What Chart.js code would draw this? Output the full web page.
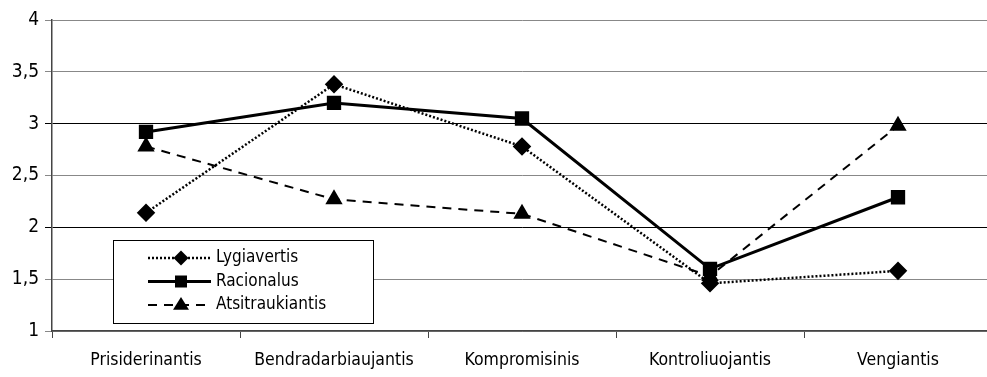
<!DOCTYPE html>
<html>
<head>
<meta charset="utf-8">
<script src="https://cdn.jsdelivr.net/npm/chart.js@4"></script>
<style>
  html, body { margin: 0; padding: 0; background: #fff; overflow: hidden; }
  #wrap { width: 987px; height: 377px; overflow: hidden; }
</style>
</head>
<body>
<div id="wrap"><canvas id="lineChart" width="1003" height="377"></canvas></div>
<script>
// Kategorijos
const categories = ['Prisiderinantis', 'Bendradarbiaujantis', 'Kompromisinis', 'Kontroliuojantis', 'Vengiantis'];

// Serijų reikšmės
const lygiavertis = [2.14, 3.38, 2.78, 1.46, 1.58];
const racionalus = [2.92, 3.2, 3.05, 1.6, 2.29];
const atsitraukiantis = [2.78, 2.27, 2.13, 1.53, 2.98];

const yTicks = [1, 1.5, 2, 2.5, 3, 3.5, 4];

const fontFamily = '"DejaVu Sans Condensed", "Liberation Sans Narrow", sans-serif';

// Legenda grafiko viduje
const insideLegend = {
    id: 'insideLegend',
    afterDraw(chart) {
        const ctx = chart.ctx;
        const x0 = 113, y0 = 240, w = 260, h = 83;
        ctx.save();
        ctx.fillStyle = '#fff';
        ctx.fillRect(x0, y0, w, h);
        ctx.strokeStyle = '#000';
        ctx.lineWidth = 1;
        ctx.strokeRect(x0 + 0.5, y0 + 0.5, w, h);
        chart.data.datasets.forEach((ds, i) => {
            const yy = y0 + 18 + i * 23.5;
            ctx.strokeStyle = '#000';
            ctx.lineWidth = ds.borderWidth;
            ctx.setLineDash(ds.borderDash || []);
            ctx.beginPath();
            ctx.moveTo(148, yy);
            ctx.lineTo(211, yy);
            ctx.stroke();
            ctx.setLineDash([]);
            ctx.fillStyle = '#000';
            const r = ds.pointRadius;
            ctx.beginPath();
            if (ds.pointStyle === 'rectRot') {
                ctx.moveTo(181, yy - r); ctx.lineTo(181 + r, yy); ctx.lineTo(181, yy + r); ctx.lineTo(181 - r, yy);
            } else if (ds.pointStyle === 'rect') {
                ctx.rect(181 - r * 0.75, yy - r * 0.75, r * 1.5, r * 1.5);
            } else {
                ctx.moveTo(181, yy - r); ctx.lineTo(181 + r, yy + r * 0.6); ctx.lineTo(181 - r, yy + r * 0.6);
            }
            ctx.closePath();
            ctx.fill();
            ctx.font = '17px ' + fontFamily;
            ctx.textBaseline = 'middle';
            ctx.textAlign = 'left';
            ctx.fillText(ds.label, 216, yy);
        });
        ctx.restore();
    }
};

const config = {
    type: 'line',
    data: {
        labels: categories,
        datasets: [
            {
                label: 'Lygiavertis',
                data: lygiavertis,
                borderColor: '#000',
                backgroundColor: '#000',
                borderWidth: 2.5,
                borderDash: [2, 2],
                pointStyle: 'rectRot',
                pointRadius: 7.5,
                tension: 0
            },
            {
                label: 'Racionalus',
                data: racionalus,
                borderColor: '#000',
                backgroundColor: '#000',
                borderWidth: 3,
                pointStyle: 'rect',
                pointRadius: 8,
                tension: 0
            },
            {
                label: 'Atsitraukiantis',
                data: atsitraukiantis,
                borderColor: '#000',
                backgroundColor: '#000',
                borderWidth: 2,
                borderDash: [9, 7],
                pointStyle: 'triangle',
                pointRadius: 8,
                tension: 0
            }
        ]
    },
    options: {
        responsive: false,
        animation: false,
        layout: { padding: { top: 20, right: 0, left: 0, bottom: 0 } },
        plugins: {
            legend: { display: false },
            tooltip: { enabled: false }
        },
        scales: {
            x: {
                offset: true,
                grid: {
                    offset: true,
                    drawOnChartArea: false,
                    drawTicks: true,
                    tickLength: 7,
                    color: '#444'
                },
                border: { color: '#444', width: 1.5 },
                ticks: {
                    color: '#000',
                    padding: 12,
                    maxRotation: 0,
                    font: { family: fontFamily, size: 17.5 }
                },
                afterFit(scale) { scale.height = 46; }
            },
            y: {
                min: 1,
                max: 4,
                afterBuildTicks(scale) { scale.ticks = yTicks.map(v => ({ value: v })); },
                grid: {
                    color: ctx => (ctx.tick && (ctx.tick.value === 2 || ctx.tick.value === 3)) ? '#000' : '#888',
                    lineWidth: 1,
                    drawTicks: true,
                    tickLength: 7
                },
                border: { color: '#444', width: 1.5 },
                ticks: {
                    color: '#000',
                    padding: 6,
                    font: { family: fontFamily, size: 19 },
                    callback: v => String(v).replace('.', ',')
                },
                afterFit(scale) { scale.width = 52; }
            }
        }
    },
    plugins: [insideLegend]
};

const ctx = document.getElementById('lineChart').getContext('2d');
new Chart(ctx, config);
</script>
</body>
</html>
